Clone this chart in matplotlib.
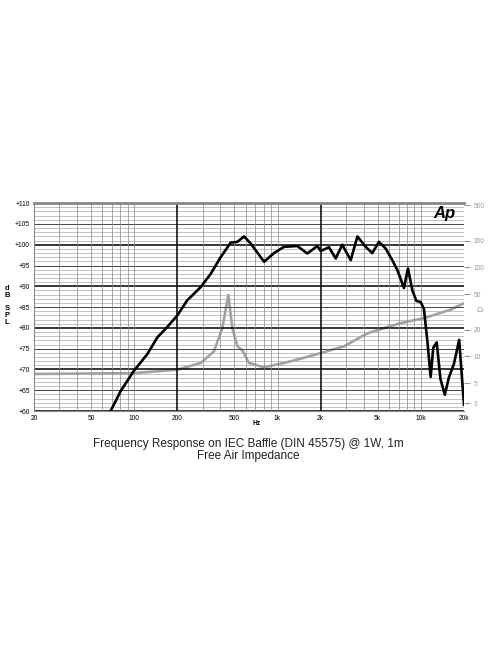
import numpy as np
import matplotlib.pyplot as plt

plt.rcParams['font.family'] = ['Liberation Sans', 'DejaVu Sans']

spl_f = [68.5, 80.5, 99.7, 123.6, 145, 170, 200, 234, 291, 342, 401, 471, 525, 584, 650,
         806, 945, 1110, 1374, 1614, 1896, 2000, 2285, 2547, 2830, 3240, 3610, 4120, 4580,
         5100, 5680, 6320, 6860, 7620, 8130, 8730, 9300, 9980, 10500, 11100, 11700, 12200,
         12900, 13700, 14700, 15700, 17000, 18500, 19500, 20000]
spl_db = [60, 64.8, 69.7, 73.7, 77.7, 80.2, 83, 86.6, 89.8, 93, 97, 100.5, 100.7, 102, 100.3,
          95.9, 98, 99.5, 99.7, 97.9, 99.7, 98.5, 99.4, 96.7, 100, 96.3, 102, 99.5, 98,
          100.7, 99.1, 96.3, 93.9, 89.6, 94.3, 89, 86.5, 86.2, 84.6, 76.9, 68.2, 75.2,
          76.5, 67.7, 63.9, 68.1, 71.3, 77.1, 66.5, 61.5]

imp_f = [20, 100, 200, 291, 360, 412, 454, 484, 525, 568, 632, 806, 1110, 1450, 2000,
         2910, 4240, 5530, 7230, 10500, 16100, 20000]
imp_ohm = [6.35, 6.5, 7.1, 8.45, 11.4, 20.8, 49, 20.8, 13, 11.7, 8.45, 7.55, 8.45, 9.44,
           10.9, 13, 18.2, 20.8, 23.7, 26.9, 33.5, 39.6]

db_ticks = list(range(60, 111, 5))
hz_ticks = [20, 50, 100, 200, 500, 1000, 2000, 5000, 10000, 20000]
hz_labels = ['20', '50', '100', '200', '500', '1k', '2k', '5k', '10k', '20k']
ohm_ticks = [3, 5, 10, 20, 50, 100, 200, 500]

fig = plt.figure(figsize=(4.96, 6.64), dpi=100)
ax = fig.add_axes([0.0685, 0.381, 0.867, 0.313])
ax.set_xscale('log')
ax.set_xlim(20, 20000)
ax.set_ylim(60, 110)

# grid
for d in range(60, 111):
    if d % 10 == 0:
        ax.axhline(d, color='black', lw=1.1, zorder=1)
    elif d % 5 == 0:
        ax.axhline(d, color='#444444', lw=0.7, zorder=1)
    else:
        ax.axhline(d, color='#aaaaaa', lw=0.5, zorder=1)
for dec in [10, 100, 1000, 10000]:
    for m in range(1, 10):
        f = dec * m
        if 20 < f < 20000:
            if f in (200, 2000):
                ax.axvline(f, color='black', lw=1.1, zorder=1)
            else:
                ax.axvline(f, color='#888888', lw=0.5, zorder=1)

ax.set_xticks(hz_ticks)
ax.set_xticklabels(hz_labels)
ax.minorticks_off()
ax.set_yticks(db_ticks)
ax.set_yticklabels(['+%d' % d for d in db_ticks])
ax.tick_params(labelsize=4.8, length=0, pad=3)
for s in ax.spines.values():
    s.set_color('#888888')
ax.spines['top'].set_linewidth(2)
ax.spines['right'].set_visible(False)

ax.plot(spl_f, spl_db, color='black', lw=1.9, zorder=4, clip_on=True)

ax2 = ax.twinx()
ax2.set_yscale('log')
ax2.set_ylim(2.44, 526)
ax2.plot(imp_f, imp_ohm, color='#a0a0a0', lw=1.9, zorder=3)
ax2.set_yticks(ohm_ticks)
ax2.set_yticklabels([str(t) for t in ohm_ticks])
ax2.minorticks_off()
ax2.tick_params(labelsize=4.8, length=4, color='#999999', labelcolor='#999999', pad=3)
for s in ax2.spines.values():
    s.set_visible(False)
ax.set_zorder(2)
ax.patch.set_visible(False)
ax2.set_zorder(1)

fig.text(0.014, 0.54, 'd\nB\n\nS\nP\nL', fontsize=5.5, fontweight='bold', ha='center', va='center', linespacing=0.95)
fig.text(0.967, 0.533, 'Ω', fontsize=6, color='#999999', ha='center', va='center')
fig.text(0.518, 0.36, 'Hz', fontsize=4.8, fontweight='bold', ha='center')
fig.text(0.895, 0.678, 'Ap', fontsize=12, fontweight='bold', fontstyle='italic', ha='center', va='center')

fig.text(0.5, 0.327, 'Frequency Response on IEC Baffle (DIN 45575) @ 1W, 1m', fontsize=8.5, ha='center', color='#222222')
fig.text(0.5, 0.308, 'Free Air Impedance', fontsize=8.5, ha='center', color='#222222')

fig.savefig('out.png', dpi=100)
